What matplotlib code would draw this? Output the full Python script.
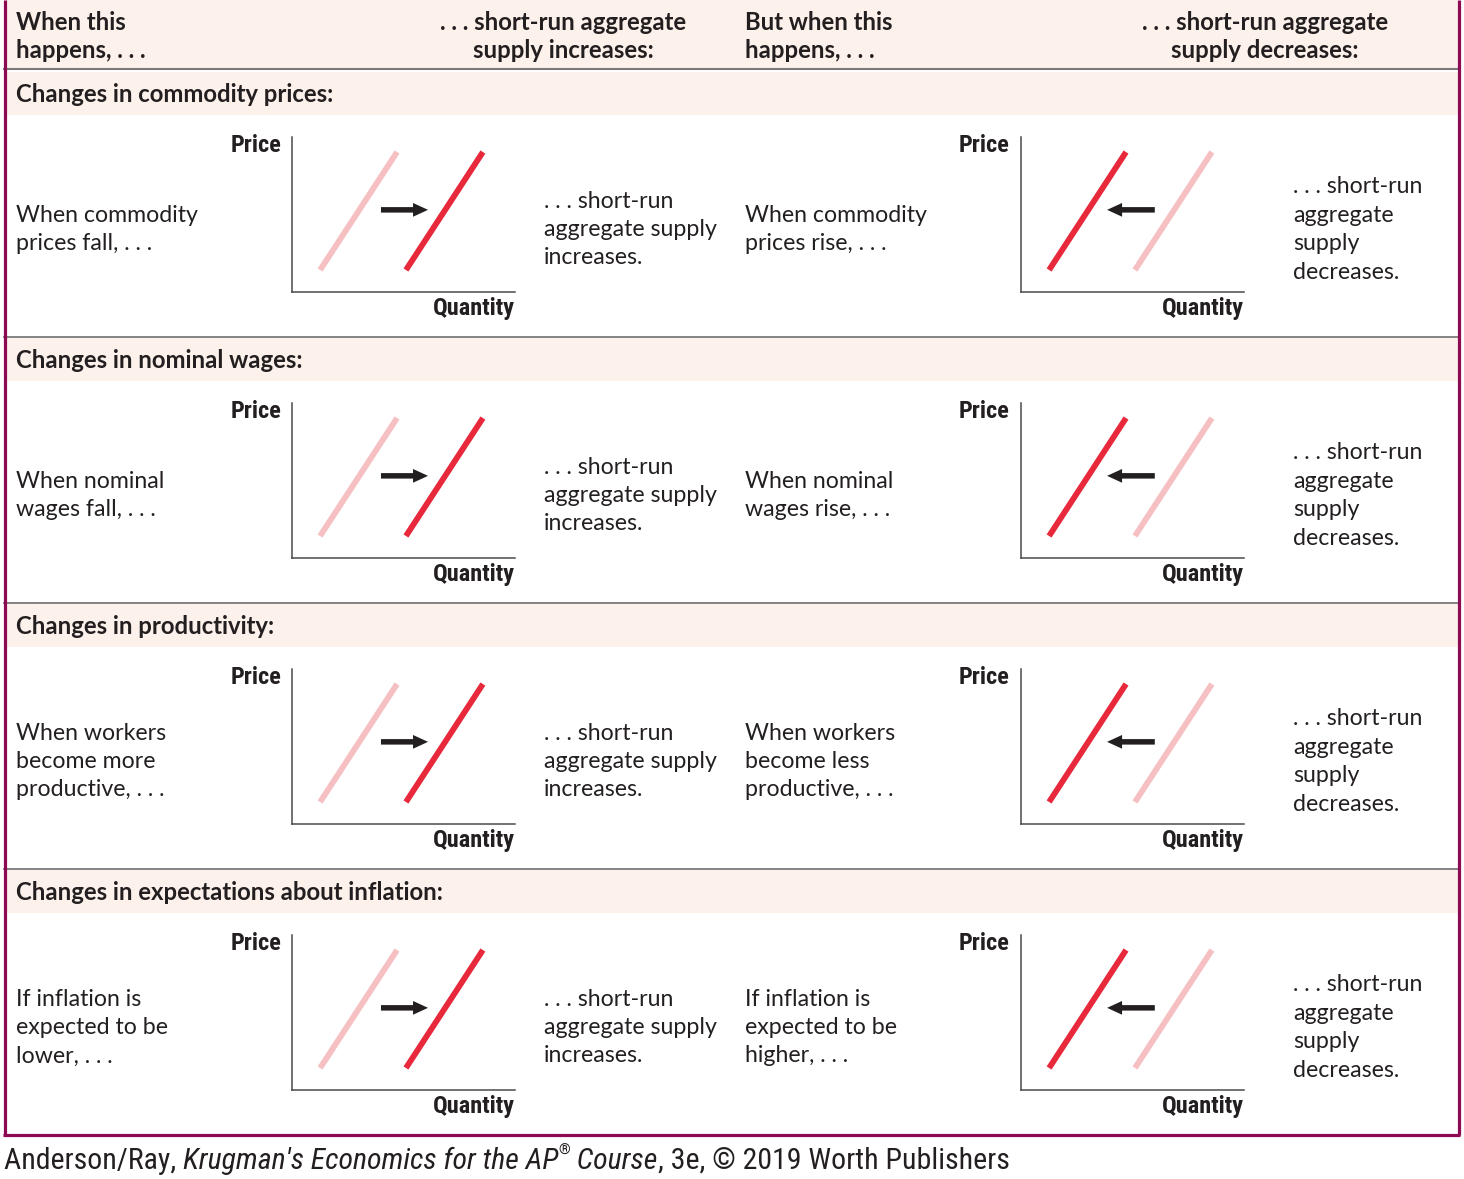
import matplotlib
matplotlib.use("Agg")
import matplotlib.pyplot as plt
from matplotlib.patches import Rectangle
from matplotlib import font_manager

# ---------------- data ----------------
header_left = ["When this", "happens, . . ."]
header_mid = [". . . short-run aggregate", "supply increases:"]
header_right = ["But when this", "happens, . . ."]
header_far = [". . . short-run aggregate", "supply decreases:"]

section_titles = [
    "Changes in commodity prices:",
    "Changes in nominal wages:",
    "Changes in productivity:",
    "Changes in expectations about inflation:",
]
cause_increase = [
    ["When commodity", "prices fall, . . ."],
    ["When nominal", "wages fall, . . ."],
    ["When workers", "become more", "productive, . . ."],
    ["If inflation is", "expected to be", "lower, . . ."],
]
cause_decrease = [
    ["When commodity", "prices rise, . . ."],
    ["When nominal", "wages rise, . . ."],
    ["When workers", "become less", "productive, . . ."],
    ["If inflation is", "expected to be", "higher, . . ."],
]
effect_increase = [". . . short-run", "aggregate supply", "increases."]
effect_decrease = [". . . short-run", "aggregate", "supply", "decreases."]

# SRAS curves in each mini chart (axis units 0-10)
curve_left_x = [1.26, 4.71]
curve_right_x = [5.11, 8.56]
curve_y = [1.42, 9.03]
arrow_level = 5.3
arrow_increase = (3.99, 6.1)   # tail, tip
arrow_decrease = (6.0, 3.86)
x_label = "Quantity"
y_label = "Price"
footer_parts = [("Anderson/Ray, ", "normal"),
                ("Krugman's Economics for the AP", "italic"),
                ("®", "sup"),
                (" Course", "italic"),
                (", 3e, © 2019 Worth Publishers", "normal")]

# ---------------- style ----------------
W, H, DPI = 1464, 1179, 100
TXT = "#231f20"
PINK = "#fdf1ec"
BORDER = "#8c0a52"
SEP = "#7a7a7a"
LIGHT = "#f6bfc1"
DARK = "#e8283b"
BODY = "Lato"
BODY_SIZE = 16.7
BOLD_SIZE = 17.2

_names = {f.name for f in font_manager.fontManager.ttflist}
COND = next(n for n in ["Roboto Condensed", "Liberation Sans Narrow",
                        "DejaVu Sans Condensed", "Roboto", "DejaVu Sans"]
            if n in _names)

fig = plt.figure(figsize=(W / DPI, H / DPI), dpi=DPI)
fig.patch.set_facecolor("white")
bg = fig.add_axes([0, 0, 1, 1])
bg.set_xlim(0, W)
bg.set_ylim(H, 0)
bg.axis("off")
renderer = fig.canvas.get_renderer()

def fit_size(text, target_px, base=14, **kw):
    t = bg.text(0, 0, text, fontsize=base, **kw)
    w = t.get_window_extent(renderer).width
    t.remove()
    return base * target_px / w

LABEL_SIZE = min(fit_size(x_label, 83, family=COND, weight="bold"), 18)

# header band
bg.add_patch(Rectangle((4, 0), 1455, 68, color=PINK, lw=0, zorder=0))
bg.plot([4, 1458], [68.5, 68.5], color=SEP, lw=1.5, zorder=1)

def lines(x, yc, items, ha="left", weight="normal", size=BODY_SIZE, step=28.5):
    n = len(items)
    y0 = yc - step * (n - 1) / 2
    for i, s in enumerate(items):
        bg.text(x, y0 + i * step, s, ha=ha, va="center", fontsize=size,
                family=BODY, weight=weight, color=TXT)

lines(16, 37, header_left, weight="bold", size=BOLD_SIZE, step=28)
lines(563, 37, header_mid, ha="center", weight="bold", size=BOLD_SIZE, step=28)
lines(745, 37, header_right, weight="bold", size=BOLD_SIZE, step=28)
lines(1265, 37, header_far, ha="center", weight="bold", size=BOLD_SIZE, step=28)

def mini_chart(left_px, top_px, light_x, dark_x, arrow):
    w, h = 223, 155
    ax = fig.add_axes([left_px / W, 1 - (top_px + h) / H, w / W, h / H])
    ax.set_xlim(0, 10)
    ax.set_ylim(0, 10)
    ax.patch.set_alpha(0)
    for s in ["top", "right"]:
        ax.spines[s].set_visible(False)
    for s in ["left", "bottom"]:
        ax.spines[s].set_color("#4a4a4a")
        ax.spines[s].set_linewidth(1.1)
    ax.set_xticks([])
    ax.set_yticks([])
    ax.plot(light_x, curve_y, color=LIGHT, lw=4.2, solid_capstyle="butt")
    ax.plot(dark_x, curve_y, color=DARK, lw=4.2, solid_capstyle="butt")
    ax.annotate("", xy=(arrow[1], arrow_level), xytext=(arrow[0], arrow_level),
                arrowprops=dict(arrowstyle="simple,head_length=0.6,head_width=0.55,tail_width=0.22",
                                mutation_scale=18, color=TXT, lw=0,
                                shrinkA=0, shrinkB=0))
    bg.text(left_px - 11, top_px + 8, y_label, ha="right", va="center",
            fontsize=LABEL_SIZE, family=COND, weight="bold", color=TXT)
    bg.text(left_px + w, top_px + h + 17, x_label, ha="right", va="center",
            fontsize=LABEL_SIZE, family=COND, weight="bold", color=TXT)

for k in range(4):
    base = 71 + 266 * k
    if k > 0:
        bg.plot([4, 1458], [base - 0.5, base - 0.5], color=SEP, lw=1.3, zorder=1)
    bg.add_patch(Rectangle((4, base + 1), 1455, 43, color=PINK, lw=0, zorder=0))
    bg.text(16, base + 23, section_titles[k], ha="left", va="center",
            fontsize=BOLD_SIZE, family=BODY, weight="bold", color=TXT)
    top = base + 66
    mini_chart(292, top, curve_left_x, curve_right_x, arrow_increase)
    mini_chart(1021, top, curve_right_x, curve_left_x, arrow_decrease)
    yc = base + 158.5
    lines(16, yc, cause_increase[k])
    lines(544, yc, effect_increase)
    lines(745, yc, cause_decrease[k])
    lines(1293, yc, effect_decrease)

# outer border
bg.plot([4.5, 4.5], [0, 1135], color=BORDER, lw=2.3, solid_capstyle="butt", zorder=5)
bg.plot([1458.5, 1458.5], [0, 1135], color=BORDER, lw=2.3, solid_capstyle="butt", zorder=5)
bg.plot([3.4, 1459.6], [1134.5, 1134.5], color=BORDER, lw=2.3, solid_capstyle="butt", zorder=5)

# footer: fit total width to ~1002 px
def draw_footer(size):
    x = 4
    arts = []
    for s, kind in footer_parts:
        if kind == "sup":
            t = bg.text(x, 1151, s, ha="left", va="center", fontsize=size * 0.5,
                        family=COND, color=TXT)
        else:
            t = bg.text(x, 1161, s, ha="left", va="center", fontsize=size,
                        family=COND, style=("italic" if kind == "italic" else "normal"),
                        color=TXT)
        arts.append(t)
        x = t.get_window_extent(renderer).x1
    return arts, x - 4

arts, width = draw_footer(20)
for a in arts:
    a.remove()
fsize = min(20 * 1002 / width, 23)
draw_footer(fsize)

fig.savefig("out.png", dpi=DPI)
